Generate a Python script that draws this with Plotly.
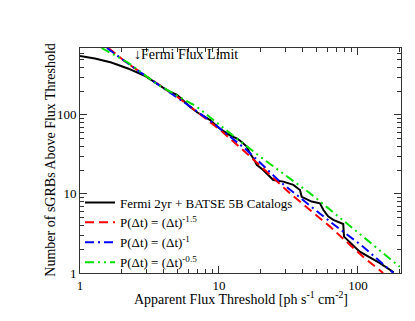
import plotly.graph_objects as go

# Observed cumulative counts (Fermi 2yr + BATSE 5B)
obs_flux = [1.0, 1.28, 1.68, 2.21, 2.92, 3.44, 4.3, 5.0, 6.18, 7.0, 8.6, 10, 12, 13.5, 14.2,
            15.8, 16.7, 17.7, 18.7, 20.8, 24.6, 29, 34.3, 38.3, 39.4, 46.4, 53.3, 56.3,
            61, 66.5, 78.4, 79.4, 103, 144, 181]
obs_n = [555, 516, 459, 386, 312, 257, 201, 179, 127, 107, 86.5, 68, 55, 50, 47,
         40, 32.7, 28, 23.3, 20.1, 15, 14.3, 13, 11.2, 9.2, 8, 7.6, 6.3,
         5.2, 4.7, 4.17, 2.88, 1.86, 1.33, 1.02]

# Model P(dt) ~ dt^-1.5
m15_flux = [1.6, 2.11, 3.02, 4.96, 6.9, 10.2, 15.8, 32.4, 63, 109, 152]
m15_n = [700, 473, 305, 171, 110, 64.6, 32.7, 10.2, 3.86, 1.6, 1.0]

# Model P(dt) ~ dt^-1
m10_flux = [1.56, 2.56, 5.85, 9.1, 15.8, 27.5, 63, 109, 180]
m10_n = [700, 371, 137, 78.5, 36, 14.3, 4.46, 2.15, 1.0]

# Model P(dt) ~ dt^-0.5
m05_flux = [1.43, 1.63, 2.21, 3.64, 6.9, 12, 19.7, 45.2, 82.8, 200]
m05_n = [700, 613, 459, 240, 127, 58.7, 29.7, 10.2, 4.25, 1.2]

x_ticks = [1, 10, 100]
y_ticks = [1, 10, 100]

FONT = "Liberation Serif"

fig = go.Figure()
fig.add_trace(go.Scatter(x=obs_flux, y=obs_n, mode="lines",
                         line=dict(color="black", width=2),
                         name="Fermi 2yr + BATSE 5B Catalogs"))
fig.add_trace(go.Scatter(x=m15_flux, y=m15_n, mode="lines",
                         line=dict(color="#ff0000", width=2, dash="9px,5px"),
                         name="P(Δt) = (Δt)<sup>-1.5</sup>"))
fig.add_trace(go.Scatter(x=m10_flux, y=m10_n, mode="lines",
                         line=dict(color="#0000ff", width=2, dash="9px,4px,2px,4px"),
                         name="P(Δt) = (Δt)<sup>-1</sup>"))
fig.add_trace(go.Scatter(x=m05_flux, y=m05_n, mode="lines",
                         line=dict(color="#00e000", width=2, dash="9px,4px,2px,4px,2px,4px"),
                         name="P(Δt) = (Δt)<sup>-0.5</sup>"))

minor_x = [v * d for d in (1, 10, 100) for v in range(2, 10)]
minor_y = [v * d for d in (1, 10, 100) for v in range(2, 10)]

axis_common = dict(showline=True, linecolor="#333", linewidth=1, mirror="ticks",
                   ticks="inside", ticklen=7, tickcolor="#333", showgrid=False,
                   zeroline=False, automargin=False,
                   tickfont=dict(family=FONT, size=13, color="black"))

fig.update_xaxes(type="log", range=[0, 2.31], tickmode="array", tickvals=x_ticks,
                 ticktext=[str(v) for v in x_ticks],
                 minor=dict(tickmode="array", tickvals=minor_x, ticks="inside",
                            ticklen=4, tickcolor="#333", showgrid=False),
                 **axis_common)
fig.update_yaxes(type="log", range=[0, 2.845], tickmode="array", tickvals=y_ticks,
                 ticktext=[str(v) for v in y_ticks],
                 minor=dict(tickmode="array", tickvals=minor_y, ticks="inside",
                            ticklen=4, tickcolor="#333", showgrid=False),
                 **axis_common)

# Axis titles placed as annotations for exact positioning
fig.add_annotation(xref="paper", yref="paper", x=0.5, y=-0.112,
                   text="Apparent Flux Threshold [ph s<sup>-1</sup> cm<sup>-2</sup>]",
                   showarrow=False, xanchor="center", yanchor="middle",
                   font=dict(family=FONT, size=14, color="black"))
fig.add_annotation(xref="paper", yref="paper", x=-0.093, y=0.5,
                   text="Number of sGRBs Above Flux Threshold", textangle=-90,
                   showarrow=False, xanchor="center", yanchor="middle",
                   font=dict(family=FONT, size=14, color="black"))

fig.add_annotation(x=0.372, y=2.76, xref="x", yref="y", text="↓Fermi Flux Limit",
                   showarrow=False, xanchor="left", yanchor="middle",
                   font=dict(family=FONT, size=14, color="black"))

fig.update_layout(
    width=415, height=321,
    margin=dict(l=72, r=22, t=40, b=56),
    paper_bgcolor="white", plot_bgcolor="white",
    showlegend=True,
    legend=dict(x=0.0, y=-0.02, xanchor="left", yanchor="bottom",
                bgcolor="rgba(0,0,0,0)", borderwidth=0, itemwidth=30,
                font=dict(family=FONT, size=13, color="black"), tracegroupgap=0),
    font=dict(family=FONT, size=14, color="black"),
)

fig.write_html("out.html")
